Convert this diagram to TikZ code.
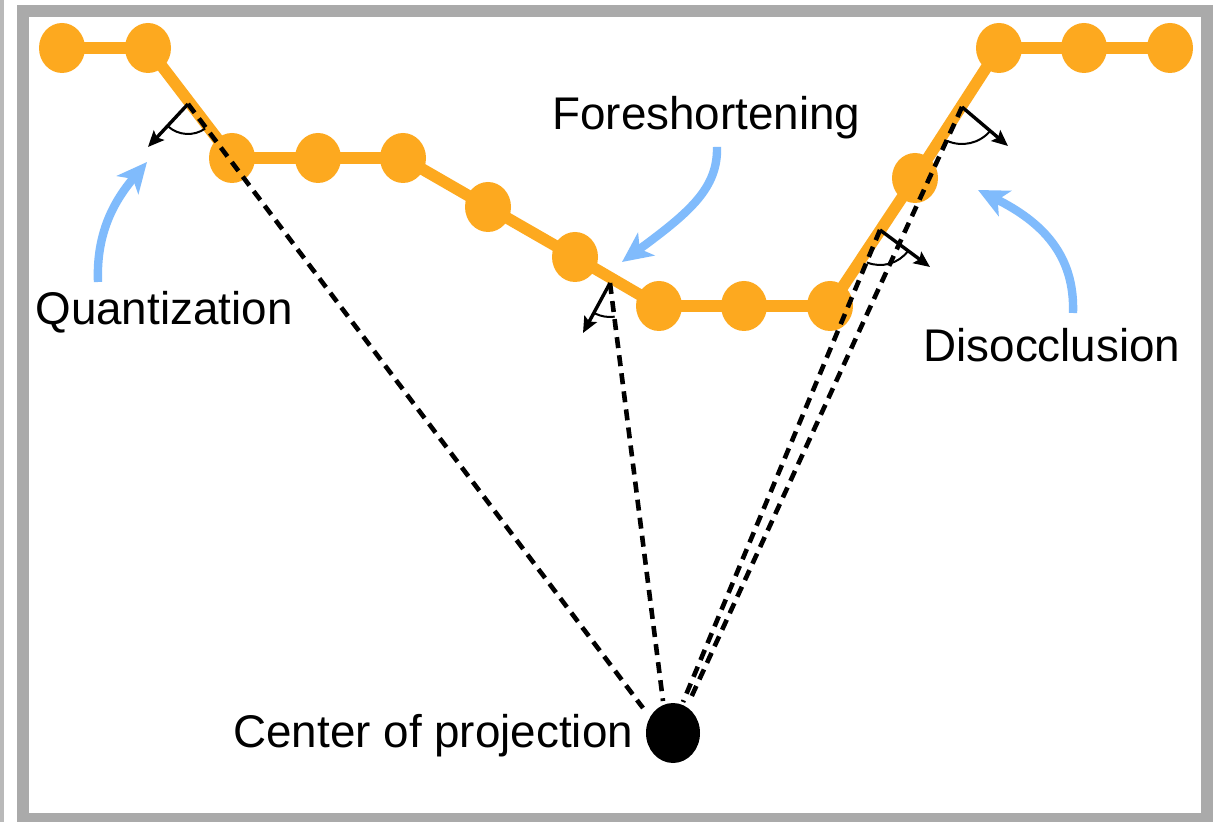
\documentclass[tikz,border=0pt]{standalone}
\usepackage{fontspec}
\setmainfont{Liberation Sans}
\usetikzlibrary{arrows.meta,shapes.geometric}

\definecolor{framegray}{RGB}{170,170,170}
\definecolor{stripgray}{RGB}{185,185,185}
\definecolor{beadorange}{RGB}{253,169,31}
\definecolor{calloutblue}{RGB}{128,187,252}

\tikzset{
  frame/.style={draw=framegray, line width=6pt},
  chain/.style={draw=beadorange, line width=5.8pt, line join=round},
  bead/.style={ellipse, fill=beadorange, inner sep=0pt,
               minimum width=23pt, minimum height=25pt},
  eye/.style={ellipse, fill=black, inner sep=0pt,
              minimum width=27pt, minimum height=30pt},
  ray/.style={draw=black, line width=2.3pt, dash pattern=on 5.5pt off 3.6pt},
  normal/.style={draw=black, line width=1.7pt,
                 -{Stealth[length=8pt,width=7pt,inset=1.5pt]}},
  angarc/.style={draw=black, line width=1pt},
  callout/.style={draw=calloutblue, line width=4.2pt,
                  -{Stealth[length=15pt,width=14pt,inset=4pt]}},
  caption/.style={inner sep=0pt, anchor=base west,
                  font=\fontsize{22.9pt}{27pt}\selectfont}
}

\begin{document}
\begin{tikzpicture}[x=0.5pt, y=0.5pt, yscale=-1]
  \clip (0,0) rectangle (1225,822);
  \fill[white] (0,0) rectangle (1225,822);

  % outer panel edges
  \fill[stripgray] (0,0) rectangle (3.5,822);
  \draw[frame] (23,11) rectangle (1207,819);

  % surface samples
  \node[bead] (b1)  at (62,48)   {};
  \node[bead] (b2)  at (148,48)  {};
  \node[bead] (b3)  at (232,158) {};
  \node[bead] (b4)  at (318,158) {};
  \node[bead] (b5)  at (403,158) {};
  \node[bead] (b6)  at (488,207) {};
  \node[bead] (b7)  at (575,257) {};
  \node[bead] (b8)  at (659,306) {};
  \node[bead] (b9)  at (744,306) {};
  \node[bead] (b10) at (830,306) {};
  \node[bead] (b11) at (915,178) {};
  \node[bead] (b12) at (999,48)  {};
  \node[bead] (b13) at (1084,48) {};
  \node[bead] (b14) at (1170,48) {};

  % the surface polyline through the samples
  \draw[chain] (b1.center) -- (b2.center) -- (b3.center) -- (b4.center)
    -- (b5.center) -- (b6.center) -- (b7.center) -- (b8.center)
    -- (b9.center) -- (b10.center) -- (b11.center) -- (b12.center)
    -- (b13.center) -- (b14.center);

  % center of projection
  \node[eye] (cop) at (673,733) {};

  % ray origins on the surface and their ends at the eye
  \coordinate (q0) at (188,104);
  \coordinate (f0) at (610,283);
  \coordinate (d1) at (962,107);
  \coordinate (d2) at (880,230);
  \coordinate (qe) at (643,708);
  \coordinate (fe) at (663,701);
  \coordinate (d1e) at (689,702);
  \coordinate (d2e) at (683,702);

  % viewing rays
  \draw[ray] (q0) -- (qe);
  \draw[ray] (f0) -- (fe);
  \draw[ray] (d2) -- (d2e);
  \draw[ray] (d1) -- (d1e);

  % surface normals
  \coordinate (qn) at (148,147);
  \coordinate (fn) at (583,333);
  \coordinate (d1n) at (1008,146);
  \coordinate (d2n) at (930,267);
  \draw[normal] (q0) -- (qn);
  \draw[normal] (f0) -- (fn);
  \draw[normal] (d1) -- (d1n);
  \draw[normal] (d2) -- (d2n);

  % angles between normal and ray
  \draw[angarc] ([shift={(55:30)}]q0) arc[start angle=55, end angle=132, radius=30];
  \draw[angarc] ([shift={(82:34)}]f0) arc[start angle=82, end angle=116, radius=34];
  \draw[angarc] ([shift={(40:37)}]d1) arc[start angle=40, end angle=114, radius=37];
  \draw[angarc] ([shift={(37:35)}]d2) arc[start angle=37, end angle=112, radius=35];

  % captions
  \node[caption] (lq) at (35,325)  {Quantization};
  \node[caption] (lf) at (552,130) {Foreshortening};
  \node[caption] (ld) at (923,362) {Disocclusion};
  \node[caption] (lc) at (233,747) {Center of projection};

  % callout arrows
  \coordinate (qa) at (98,282);
  \coordinate (qt) at (147,162);
  \coordinate (fa) at (717,147);
  \coordinate (ft) at (622,262);
  \coordinate (da) at (1073,313);
  \coordinate (dt) at (978,190);
  \draw[callout] (qa) .. controls (96,232) and (115,200) .. (qt);
  \draw[callout] (fa) .. controls (718,188) and (690,212) .. (ft);
  \draw[callout] (da) .. controls (1075,255) and (1042,222) .. (dt);
\end{tikzpicture}
\end{document}
